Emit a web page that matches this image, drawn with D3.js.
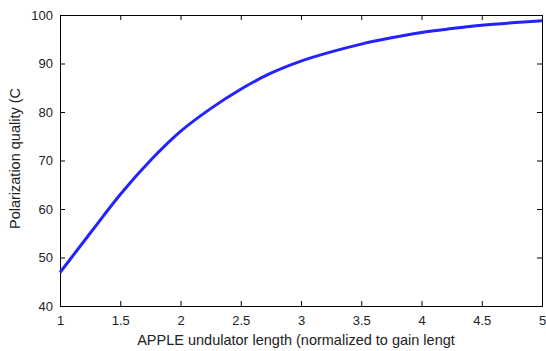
<!DOCTYPE html>
<html>
<head>
<meta charset="utf-8">
<script src="https://cdn.jsdelivr.net/npm/d3@7"></script>
<style>
  body { margin: 0; background: #fff; }
  text { font-family: "Liberation Sans", Arial, Helvetica, sans-serif; fill: #222; }
</style>
</head>
<body>
<figure id="chart" style="margin:0"></figure>
<script>
// undulator length (in gain lengths) and polarization quality (%)
const lengths = [1, 1.25, 1.5, 1.75, 2, 2.25, 2.5, 2.75, 3, 3.25, 3.5, 3.75, 4, 4.25, 4.5, 4.75, 5];
const quality = [46.9, 55.0, 63.0, 70.0, 76.0, 80.7, 84.7, 88.0, 90.5, 92.4, 94.0, 95.3, 96.4, 97.2, 97.9, 98.4, 98.8];
const xTicks = [1, 1.5, 2, 2.5, 3, 3.5, 4, 4.5, 5];
const yTicks = [40, 50, 60, 70, 80, 90, 100];
const xLabel = "APPLE undulator length (normalized to gain lengt";
const yLabel = "Polarization quality (C";

const W = 546, H = 351;
const margin = { top: 15, right: 4, bottom: 45, left: 60 };
const width = W - margin.left - margin.right;
const height = H - margin.top - margin.bottom;

const svg = d3.select("#chart").append("svg")
  .attr("width", W)
  .attr("height", H)
  .append("g")
  .attr("transform", "translate(" + margin.left + "," + margin.top + ")");

const x = d3.scaleLinear().domain([1, 5]).range([0, width]);
const y = d3.scaleLinear().domain([40, 100]).range([height, 0]);

// inward ticks, matlab style
const tick = 5;
const styleAxis = g => {
  g.select(".domain").remove();
  g.selectAll("line").attr("stroke", "#000");
  g.selectAll("text").style("font-size", "13px");
};

svg.append("g")
  .attr("transform", `translate(0,${height})`)
  .call(d3.axisBottom(x).tickValues(xTicks).tickFormat(d3.format("")).tickSizeInner(-tick).tickPadding(tick + 5))
  .call(styleAxis);

svg.append("g")
  .call(d3.axisTop(x).tickValues(xTicks).tickFormat("").tickSizeInner(-tick))
  .call(styleAxis);

svg.append("g")
  .call(d3.axisLeft(y).tickValues(yTicks).tickSizeInner(-tick).tickPadding(tick + 2))
  .call(styleAxis);

svg.append("g")
  .attr("transform", `translate(${width},0)`)
  .call(d3.axisRight(y).tickValues(yTicks).tickFormat("").tickSizeInner(-tick))
  .call(styleAxis);

// box
svg.append("rect")
  .attr("x", 0).attr("y", 0)
  .attr("width", width).attr("height", height)
  .attr("fill", "none")
  .attr("stroke", "#000")
  .attr("shape-rendering", "crispEdges");

const pts = lengths.map((d, i) => [d, quality[i]]);

svg.append("path")
  .datum(pts)
  .attr("fill", "none")
  .attr("stroke", "#2323ff")
  .attr("stroke-width", 3)
  .attr("d", d3.line().x(d => x(d[0])).y(d => y(d[1])).curve(d3.curveMonotoneX));

svg.append("text")
  .attr("x", width / 2 - 5)
  .attr("y", height + 39)
  .attr("text-anchor", "middle")
  .style("font-size", "14.5px")
  .text(xLabel);

svg.append("text")
  .attr("transform", "rotate(-90)")
  .attr("x", -height / 2 + 2)
  .attr("y", -margin.left + 20)
  .attr("text-anchor", "middle")
  .style("font-size", "14.5px")
  .text(yLabel);
</script>
</body>
</html>
